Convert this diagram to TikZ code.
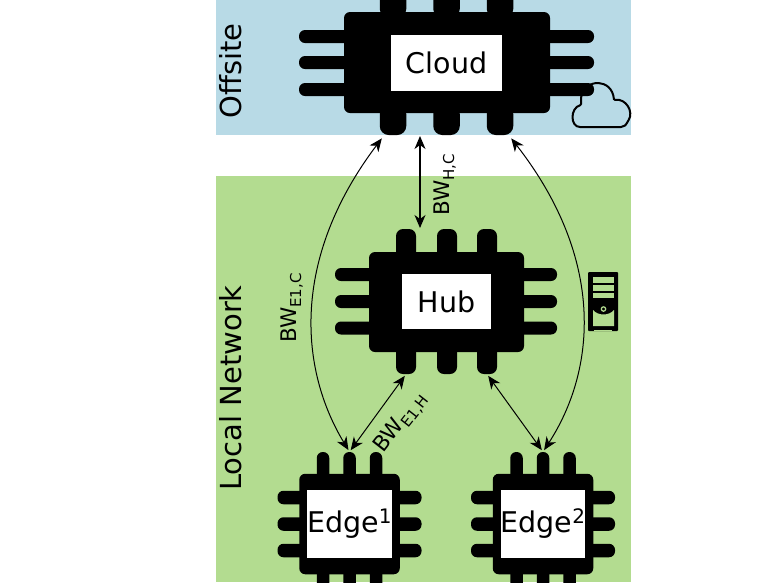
\documentclass[tikz,border=0pt]{standalone}
\usepackage{fontspec}
\setmainfont{DejaVu Sans}
\usetikzlibrary{arrows.meta}
\definecolor{offsiteblue}{RGB}{184,218,230}
\definecolor{localgreen}{RGB}{179,220,144}
\tikzset{
  >={Stealth[length=13pt,width=11pt,inset=4pt]},
  chipbody/.style={fill=black,rounded corners=6pt,inner sep=0pt},
  chippin/.style={fill=black,rounded corners=6pt,inner sep=0pt},
  chiplabel/.style={fill=white,inner sep=0pt,font=\fontsize{28.5}{28.5}\selectfont},
  zonelabel/.style={rotate=90,font=\fontsize{29}{29}\selectfont},
  bwlabel/.style={inner sep=0pt,font=\fontsize{21.5}{21.5}\selectfont},
  link/.style={<->,line width=1pt}
}
\newcommand{\bwsub}[1]{BW\raisebox{-4.5pt}{\fontsize{15}{15}\selectfont #1}}
\begin{document}
\begin{tikzpicture}[x=1pt,y=-1pt]
    \useasboundingbox (0,0) rectangle (760,582);
    \clip (0,0) rectangle (760,582);
    \fill[white] (0,0) rectangle (760,582);
    \fill[offsiteblue] (216,0) rectangle (631,135);
    \fill[localgreen] (216,176) rectangle (631,582);
    \node[zonelabel] (offsite) at (231,71) {Offsite};
    \node[zonelabel] (local) at (231,388) {Local Network};
    % cloud
    \foreach \n/\x in {1/393,2/446.5,3/500} {
      \node[chippin,minimum width=26.5pt,minimum height=30pt] (cloudt\n) at (\x,0) {};
      \node[chippin,rounded corners=9pt,minimum width=26.5pt,minimum height=30pt] (cloudb\n) at (\x,120) {};
    }
    \foreach \n/\y in {1/36.5,2/62.5,3/89.5} {
      \node[chippin,minimum width=60pt,minimum height=13pt] (cloudl\n) at (329,\y) {};
      \node[chippin,minimum width=60pt,minimum height=13pt] (cloudr\n) at (564,\y) {};
    }
    \node[chipbody,minimum width=206pt,minimum height=101pt] (cloud) at (447,62.5) {};
    \node[chiplabel,minimum width=111pt,minimum height=56pt] (cloudname) at (446.5,63) {Cloud};
    % hub
    \foreach \n/\x in {1/406,2/447,3/487} {
      \node[chippin,rounded corners=7pt,minimum width=20pt,minimum height=30pt] (hubt\n) at (\x,244) {};
      \node[chippin,rounded corners=7pt,minimum width=20pt,minimum height=30pt] (hubb\n) at (\x,359) {};
    }
    \foreach \n/\y in {1/274.5,2/301.5,3/328} {
      \node[chippin,minimum width=50pt,minimum height=13pt] (hubl\n) at (360,\y) {};
      \node[chippin,minimum width=50pt,minimum height=13pt] (hubr\n) at (532,\y) {};
    }
    \node[chipbody,minimum width=155pt,minimum height=100pt] (hub) at (446.5,302) {};
    \node[chiplabel,minimum width=89pt,minimum height=55pt] (hubname) at (446.5,301.5) {Hub};
    % edges
    \foreach \e/\cx in {one/349.5,two/543} {
      \foreach \n/\dx in {1/-26.5,2/0,3/26.5} {
        \node[chippin,minimum width=12.5pt,minimum height=36pt] (edge\e t\n) at (\cx+\dx,470) {};
        \node[chippin,minimum width=12.5pt,minimum height=34pt] (edge\e b\n) at (\cx+\dx,580) {};
      }
      \foreach \n/\y in {1/497.5,2/524,3/550.5} {
        \node[chippin,minimum width=34pt,minimum height=13.5pt] (edge\e l\n) at (\cx-55,\y) {};
        \node[chippin,minimum width=34pt,minimum height=13.5pt] (edge\e r\n) at (\cx+55,\y) {};
      }
      \node[chipbody,minimum width=100.5pt,minimum height=100.5pt] (edge\e) at (\cx,524) {};
    }
    \node[chiplabel,minimum width=83pt,minimum height=68pt] (edgeonename) at (349.5,524) {Edge\textsuperscript{1}};
    \node[chiplabel,minimum width=83pt,minimum height=68pt] (edgetwoname) at (543,524) {Edge\textsuperscript{2}};
    % links
    \coordinate (cloudport) at (420,135);
    \coordinate (hubport) at (420,229);
    \draw[link,line width=1.2pt,shorten <=1pt,shorten >=1pt] (cloudport) -- (hubport);
    \draw[link,shorten <=2pt,shorten >=4pt] (edgeonet2.north) .. controls (300,370) and (290,260) .. (cloudb1.-120);
    \draw[link,shorten <=2pt,shorten >=4pt] (edgetwot2.north) .. controls (596,370) and (606,260) .. (cloudb3.-60);
    \draw[link,shorten <=2pt,shorten >=2pt] (edgeonet2.north) -- (hubb1.south);
    \draw[link,shorten <=2pt,shorten >=2pt] (edgetwot2.north) -- (hubb3.south);
    \node[bwlabel,rotate=90] (bwhc) at (445,185) {\bwsub{H,C}};
    \node[bwlabel,rotate=90] (bwec) at (292,308) {\bwsub{E1,C}};
    \node[bwlabel,rotate=52] (bweh) at (401,423) {\bwsub{E1,H}};
    % cloud icon
    \draw[line width=2pt,rounded corners=1pt] (581,127) .. controls (570,127) and (570,108) .. (581,105)
      -- (581,98) .. controls (585,78) and (612,78) .. (614,100)
      .. controls (626,98) and (634,112) .. (628,121) .. controls (626,125) and (624,127) .. (620,127) -- cycle;
    % server icon
    \fill[rounded corners=1pt] (588,272) rectangle (618,331);
    \fill[localgreen] (593,277) rectangle (614,283);
    \fill[localgreen] (593,285) rectangle (614,291);
    \fill[localgreen] (593,293) rectangle (614,298);
    \fill[localgreen] (593,310) .. controls (598,316) and (609,316) .. (614,310) -- (614,326) -- (593,326) -- cycle;
    \draw[line width=1.2pt,localgreen] (603.5,309) circle (2.2pt);
    \fill[localgreen] (594,329.5) rectangle (612,331);
\end{tikzpicture}
\end{document}
